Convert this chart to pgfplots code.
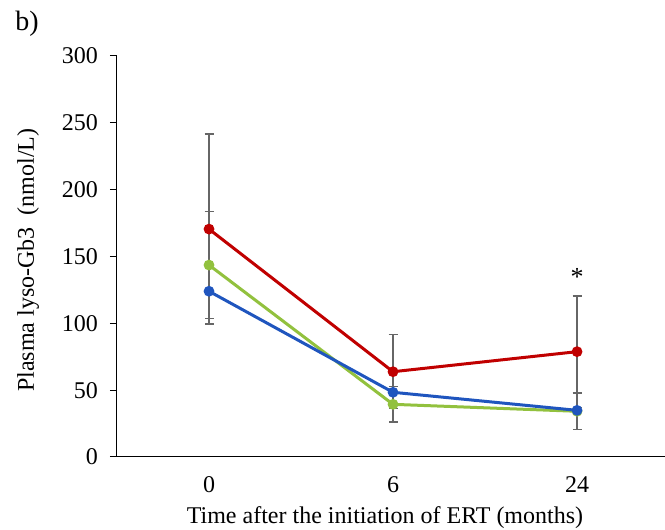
\documentclass[border=0pt]{standalone}
\usepackage{pgfplots}
\pgfplotsset{compat=1.18}
\usepackage{fontspec}
\setmainfont{Liberation Serif}
\definecolor{SerRed}{HTML}{C00000}
\definecolor{SerGreen}{HTML}{92C13E}
\definecolor{SerBlue}{HTML}{1F55BE}
\definecolor{ErrGray}{HTML}{666666}

\begin{document}
\begin{tikzpicture}
\fontsize{24}{28}\selectfont
\path[use as bounding box] (0,0) rectangle (665pt,530pt);
\node[font=\fontsize{28}{32}\selectfont] at (27pt,506pt) {b)};
\begin{axis}[
  at={(117pt,73pt)}, anchor=south west,
  scale only axis, width=548pt, height=401pt,
  xmin=-0.5, xmax=2.478, ymin=0, ymax=300,
  xtick={0,1,2}, xticklabels={0,6,24},
  ytick={0,50,...,300},
  axis x line*=bottom, axis y line*=left,
  axis line style={line width=1pt,black,-},
  tick align=outside, major tick length=7pt,
  tick style={line width=1pt,black},
  xtick style={draw=none},
  /pgf/number format/assume math mode=true,
  tick label style={font=\fontsize{24}{28}\selectfont},
  yticklabel style={xshift=-4pt},
  xticklabel style={yshift=-4pt},
  every axis y label/.style={at={(axis description cs:-0.162,0.491)},rotate=90,anchor=center,font=\fontsize{24}{28}\selectfont},
  every axis x label/.style={at={(axis description cs:0.489,-0.15)},anchor=center,font=\fontsize{24}{28}\selectfont},
  ylabel={Plasma lyso-Gb3\ \ (nmol/L)},
  xlabel={Time after the initiation of ERT (months)},
  clip=false,
]
% error bars first, behind the lines
\addplot[draw=none, forget plot, error bars/.cd, y dir=both, y explicit,
  error bar style={draw=ErrGray,line width=1.3pt},
  error mark options={rotate=90,draw=ErrGray,mark size=4.5pt,line width=1.3pt}]
  coordinates {(0,170.5) +- (0,71.1) (1,63.8) +- (0,27.7) (2,78.8) +- (0,41.6)};
\addplot[draw=none, forget plot, error bars/.cd, y dir=both, y explicit,
  error bar style={draw=ErrGray,line width=1.3pt},
  error mark options={rotate=90,draw=ErrGray,mark size=4.5pt,line width=1.3pt}]
  coordinates {(0,143.6) +- (0,40.2) (1,39.4) +- (0,13.2) (2,34.2) +- (0,13.6)};
% series
\addplot[SerGreen, line width=3pt, mark=*, mark size=3.8pt]
  coordinates {(0,143.6) (1,39.4) (2,34.2)};
\addplot[SerBlue, line width=3pt, mark=*, mark size=3.8pt]
  coordinates {(0,124.0) (1,48.4) (2,34.9)};
\addplot[SerRed, line width=3pt, mark=*, mark size=3.8pt]
  coordinates {(0,170.5) (1,63.8) (2,78.8)};
\node[font=\fontsize{26}{30}\selectfont] at (axis cs:2,135) {*};
\end{axis}
\end{tikzpicture}
\end{document}
